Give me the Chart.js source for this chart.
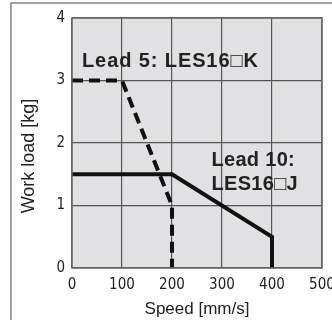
<!DOCTYPE html>
<html>
<head>
<meta charset="utf-8">
<script src="https://cdn.jsdelivr.net/npm/chart.js@4/dist/chart.umd.min.js"></script>
<style>
  html, body { margin: 0; padding: 0; background: #fff; }
  canvas { display: block; }
</style>
</head>
<body>
<canvas id="loadChart" width="332" height="320"></canvas>
<script>
// Work load vs speed for LES16 (two leads)
const xTickValues = [0, 100, 200, 300, 400, 500];
const yTickValues = [0, 1, 2, 3, 4];

const lead5Speed = [0, 100, 200, 200];
const lead5Load = [3, 3, 1, 0];

const lead10Speed = [0, 200, 400, 400];
const lead10Load = [1.5, 1.5, 0.5, 0];

const lead5Label = "Lead 5: LES16\u25A1K";
const lead10Label = ["Lead 10:", "LES16\u25A1J"];

const toPoints = (xs, ys) => xs.map((x, i) => ({ x: x, y: ys[i] }));

const tickFont = { family: '"Liberation Sans Narrow", "DejaVu Sans Condensed", sans-serif', size: 15 };
const boldFont = 'bold 20px "Liberation Sans", Arial, "DejaVu Sans", sans-serif';

// frame, plot background, axis titles and curve labels
const decorPlugin = {
  id: "decor",
  beforeDraw(chart) {
    const { ctx, chartArea: a } = chart;
    ctx.save();
    ctx.fillStyle = "#fff";
    ctx.fillRect(0, 0, chart.width, chart.height);
    ctx.strokeStyle = "#8a8a8a";
    ctx.lineWidth = 1.6;
    ctx.strokeRect(11, 3, 400, 400);
    ctx.fillStyle = "#e1e1e3";
    ctx.fillRect(a.left, a.top, a.right - a.left, a.bottom - a.top);
    ctx.restore();
  },
  afterDatasetsDraw(chart) {
    const { ctx, chartArea: a, scales } = chart;
    const x = scales.x, y = scales.y;
    ctx.save();
    ctx.strokeStyle = "#6a6a6a";
    ctx.lineWidth = 1.5;
    ctx.strokeRect(a.left, a.top, a.right - a.left, a.bottom - a.top);

    ctx.fillStyle = "#222";
    ctx.font = boldFont;
    ctx.textAlign = "left";
    ctx.textBaseline = "alphabetic";
    ctx.letterSpacing = "0.9px";
    ctx.fillText(lead5Label, x.getPixelForValue(20), y.getPixelForValue(3.22));
    ctx.letterSpacing = "0.3px";
    ctx.fillText(lead10Label[0], x.getPixelForValue(279), y.getPixelForValue(1.63));
    ctx.fillText(lead10Label[1], x.getPixelForValue(279), y.getPixelForValue(1.25));
    ctx.letterSpacing = "0px";

    // axis titles
    ctx.font = '17px "Liberation Sans", Arial, sans-serif';
    ctx.textAlign = "center";
    ctx.textBaseline = "middle";
    ctx.fillText("Speed [mm/s]", (a.left + a.right) / 2, 309);
    ctx.translate(29, 156);
    ctx.rotate(-Math.PI / 2);
    ctx.font = '18px "Liberation Sans", Arial, sans-serif';
    ctx.fillText("Work load [kg]", 0, 0);
    ctx.restore();
  }
};

const ctx = document.getElementById("loadChart").getContext("2d");

new Chart(ctx, {
  type: "scatter",
  data: {
    datasets: [
      {
        label: "Lead 10",
        data: toPoints(lead10Speed, lead10Load),
        showLine: true,
        borderColor: "#111",
        borderWidth: 4,
        pointRadius: 0,
        borderJoinStyle: "miter"
      },
      {
        label: "Lead 5",
        data: toPoints(lead5Speed, lead5Load),
        showLine: true,
        borderColor: "#111",
        borderWidth: 4,
        borderDash: [11, 6],
        pointRadius: 0,
        borderJoinStyle: "miter"
      }
    ]
  },
  options: {
    responsive: false,
    animation: false,
    devicePixelRatio: 1,
    layout: { padding: { top: 18, right: 10, left: 0, bottom: 0 } },
    plugins: {
      legend: { display: false },
      tooltip: { enabled: false }
    },
    scales: {
      x: {
        type: "linear",
        min: 0,
        max: 500,
        afterFit: (scale) => {
          scale.height = 52;
          scale.paddingLeft = 0;
          scale.paddingRight = 0;
        },
        afterBuildTicks: (scale) => { scale.ticks = xTickValues.map(v => ({ value: v })); },
        ticks: { color: "#222", font: tickFont, padding: 8, maxRotation: 0 },
        grid: { color: "#555", lineWidth: 1.2, drawTicks: false },
        border: { display: false }
      },
      y: {
        type: "linear",
        min: 0,
        max: 4,
        afterFit: (scale) => {
          scale.width = 72;
          scale.paddingTop = 0;
          scale.paddingBottom = 0;
        },
        afterBuildTicks: (scale) => { scale.ticks = yTickValues.map(v => ({ value: v })); },
        ticks: { color: "#222", font: tickFont, padding: 7 },
        grid: { color: "#555", lineWidth: 1.2, drawTicks: false },
        border: { display: false }
      }
    }
  },
  plugins: [decorPlugin]
});
</script>
</body>
</html>
